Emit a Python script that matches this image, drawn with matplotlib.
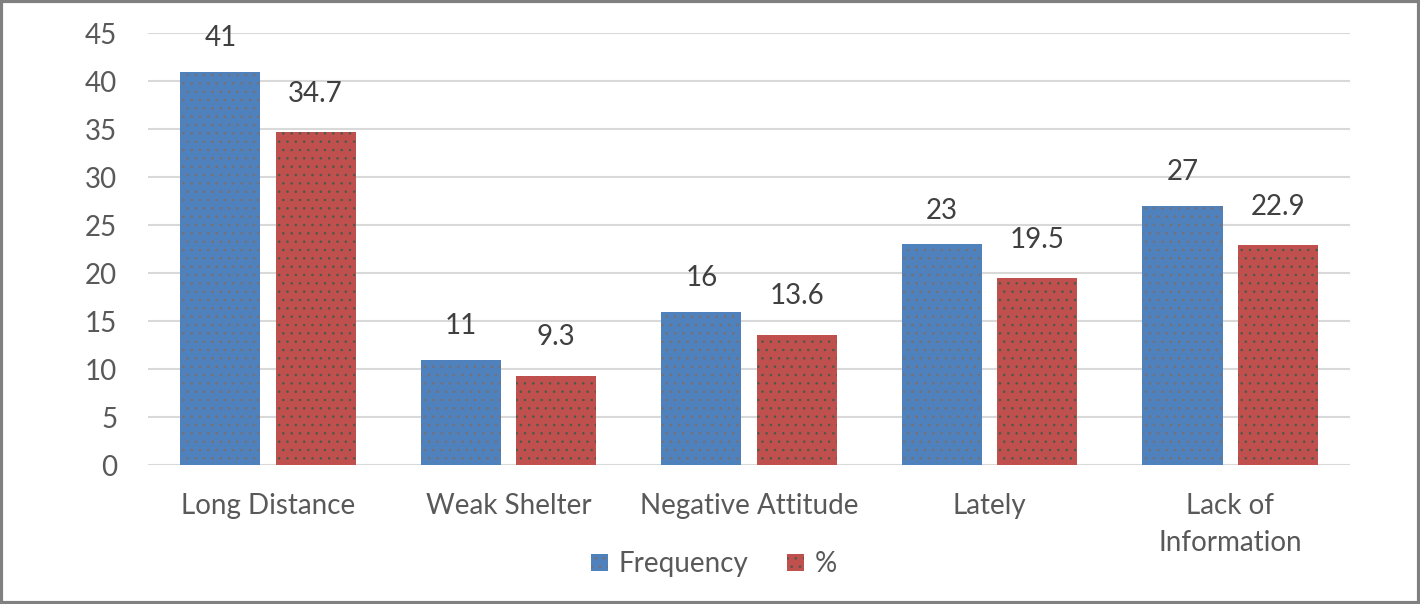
import matplotlib
matplotlib.use("Agg")
import matplotlib.pyplot as plt
import numpy as np

categories = ["Long Distance", "Weak Shelter", "Negative Attitude", "Lately", "Lack of\nInformation"]
frequency = [41, 11, 16, 23, 27]
percent = [34.7, 9.3, 13.6, 19.5, 22.9]
freq_labels = ["41", "11", "16", "23", "27"]
pct_labels = ["34.7", "9.3", "13.6", "19.5", "22.9"]

plt.rcParams['font.family'] = ['Lato', 'DejaVu Sans']
plt.rcParams['hatch.linewidth'] = 0.6
text_color = "#595959"
fs = 20

fig = plt.figure(figsize=(14.2, 6.04), dpi=100)
ax = fig.add_axes([0.104, 0.230, 0.847, 0.715])

x = np.arange(len(categories))
w = 0.333
off = 0.198
b1 = ax.bar(x - off, frequency, w, color="#4F81BD", edgecolor="#7a6f70",
            linewidth=0, hatch="..", label="Frequency", zorder=3)
b2 = ax.bar(x + off, percent, w, color="#C0504D", edgecolor="#4a5a4a",
            linewidth=0, hatch="..", label="%", zorder=3)

# value labels above bars
for bar, lab in zip(b1, freq_labels):
    ax.text(bar.get_x() + bar.get_width() / 2, bar.get_height() + 3.5, lab,
            ha="center", va="center", fontsize=fs, color="#404040")
for bar, lab in zip(b2, pct_labels):
    ax.text(bar.get_x() + bar.get_width() / 2, bar.get_height() + 4.0, lab,
            ha="center", va="center", fontsize=fs, color="#404040")

ax.set_xlim(-0.5, 4.5)
ax.set_ylim(0, 45)
ax.set_yticks(np.arange(0, 46, 5))
ax.set_xticks(x)
ax.set_xticklabels(categories, fontsize=fs, color=text_color, linespacing=1.55)
ax.tick_params(axis="y", labelsize=fs, labelcolor=text_color, length=0, pad=22)
ax.tick_params(axis="x", length=0, pad=20)
ax.grid(axis="y", color="#D9D9D9", linewidth=1.5, zorder=0)
for s in ax.spines.values():
    s.set_visible(False)

fig.legend(handles=[b1, b2], labels=["Frequency", "%"], loc="center",
           bbox_to_anchor=(0.503, 0.066), ncol=2, frameon=False, fontsize=fs,
           labelcolor=text_color, handlelength=0.6, handleheight=0.6,
           columnspacing=1.4, handletextpad=0.4)

fig.patches.append(plt.Rectangle((0.001, 0.002), 0.998, 0.996, transform=fig.transFigure,
                                 fill=False, edgecolor="#808080", linewidth=3))

fig.savefig("out.png", dpi=100)
